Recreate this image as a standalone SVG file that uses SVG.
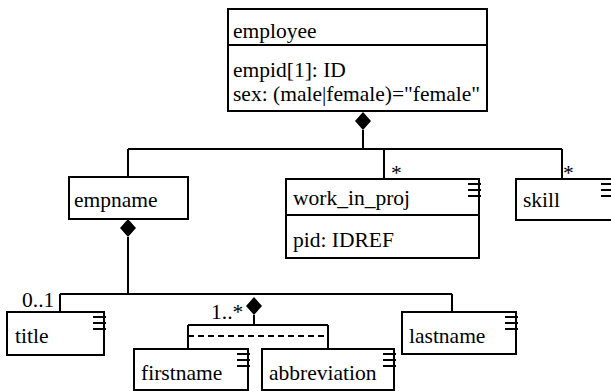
<svg xmlns="http://www.w3.org/2000/svg" xmlns:xlink="http://www.w3.org/1999/xlink" width="611" height="391" viewBox="0 0 611 391">
<style>
.box{fill:#fff;stroke:#000;stroke-width:2}
.ln{fill:none;stroke:#000;stroke-width:2}
.dash{fill:none;stroke:#000;stroke-width:2;stroke-dasharray:6 4}
.t{font-family:"Liberation Serif","Times New Roman",serif;font-size:21.5px;fill:#000}
</style>
<defs>
<path id="ico" d="M-11,5H2M-11,11H2M-11,17H2" fill="none" stroke="#000" stroke-width="2"/>
<path id="dm" d="M0,0L8,9L0,18L-8,9Z" fill="#000"/>
</defs>
<g id="connectors">
<use href="#dm" x="363" y="112"/>
<path class="ln" d="M363,130V149M128,149H562M128,149V177M384,149V179M562,149V179"/>
<text class="t" x="391" y="180">*</text>
<text class="t" x="563" y="180">*</text>
<use href="#dm" x="128" y="219"/>
<path class="ln" d="M128,237V294M60,294H452M60,294V312M452,294V312"/>
<text class="t" x="22" y="307">0..1</text>
<use href="#dm" x="254" y="297"/>
<path class="ln" d="M254,315V325M188,325H328M188,325V349M328,325V349"/>
<path class="dash" d="M188,336H328"/>
<text class="t" x="211" y="319">1..*</text>
</g>
<g id="employee">
<rect class="box" x="228" y="9" width="259" height="102"/>
<path class="ln" d="M228,45H487"/>
<text class="t" x="233" y="38">employee</text>
<text class="t" x="233" y="77">empid[1]: ID</text>
<text class="t" x="233" y="101">sex: (male|female)="female"</text>
</g>
<g id="empname">
<rect class="box" x="69" y="177" width="119" height="42"/>
<text class="t" x="74" y="207">empname</text>
</g>
<g id="work_in_proj">
<rect class="box" x="286" y="179" width="193" height="79"/>
<path class="ln" d="M286,215H479"/>
<use href="#ico" x="479" y="179"/>
<text class="t" x="293" y="205">work_in_proj</text>
<text class="t" x="293" y="247">pid: IDREF</text>
</g>
<g id="skill">
<rect class="box" x="516" y="179" width="100" height="41"/>
<path class="ln" d="M601,184H611M601,190H611M601,196H611"/>
<text class="t" x="523" y="207">skill</text>
</g>
<g id="title">
<rect class="box" x="7" y="312" width="97" height="43"/>
<use href="#ico" x="104" y="312"/>
<text class="t" x="15" y="343">title</text>
</g>
<g id="lastname">
<rect class="box" x="402" y="312" width="114" height="42"/>
<use href="#ico" x="516" y="312"/>
<text class="t" x="409" y="343">lastname</text>
</g>
<g id="firstname">
<rect class="box" x="134" y="349" width="114" height="41"/>
<use href="#ico" x="248" y="349"/>
<text class="t" x="141" y="380">firstname</text>
</g>
<g id="abbreviation">
<rect class="box" x="262" y="349" width="132" height="41"/>
<use href="#ico" x="394" y="349"/>
<text class="t" x="269" y="380">abbreviation</text>
</g>
</svg>
